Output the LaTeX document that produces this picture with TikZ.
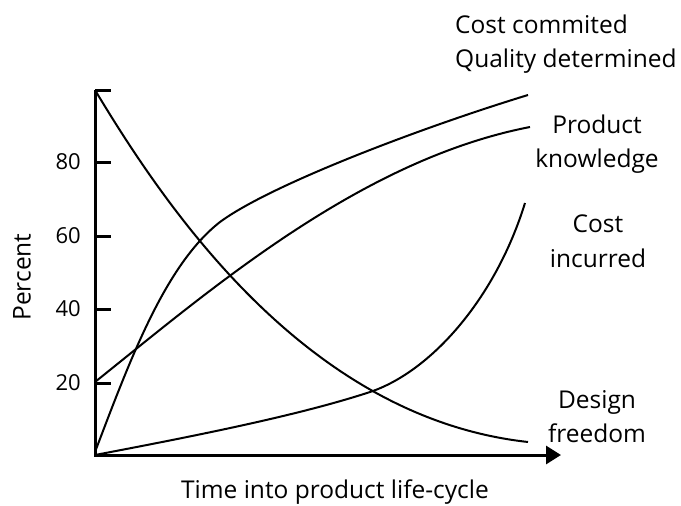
\documentclass[tikz,border=0pt]{standalone}
\usepackage{fontspec}
\setmainfont{Open Sans}
\usetikzlibrary{arrows.meta}
\begin{document}
\begin{tikzpicture}[x=1pt,y=-1pt,
  axis/.style={line width=3pt},
  curve/.style={line width=2pt},
  lbl/.style={font=\fontsize{24.5}{34}\selectfont, inner sep=0pt, anchor=base},
  ticklbl/.style={font=\fontsize{22}{24}\selectfont, inner sep=0pt, anchor=east}]
\useasboundingbox (0,0) rectangle (681,506);
\coordinate (O) at (95,455);
\coordinate (Ytop) at (95,90);
\coordinate (Xend) at (561,455);
% axes
\draw[axis, -{Triangle[length=15pt,width=18pt]}] (Ytop) -- (O) -- (Xend);
\foreach \y in {90,162,236,309,383}{
  \draw[axis] (95,\y) -- (111,\y);
}
\foreach \y/\v in {162/80,236/60,309/40,383/20}{
  \node[ticklbl] (t\v) at (81,\y) {\v};
}
\node[lbl, rotate=90, anchor=center] (pct) at (22,277) {Percent};
\node[lbl] (time) at (335,498) {Time into product life-cycle};
% curves
\draw[curve] (95,90) .. controls (170,215) and (310,418) .. (528,442);
\draw[curve] (95,452) .. controls (130,360) and (165,265) .. (220,222)
                      .. controls (270,185) and (420,128) .. (528,95);
\draw[curve] (95,382) .. controls (210,290) and (360,160) .. (530,127);
\draw[curve] (95,455) .. controls (200,435) and (300,415) .. (370,392)
                      .. controls (430,372) and (495,300) .. (525,203);
% labels
\node[lbl, anchor=base west] (cc1) at (455,33) {Cost commited};
\node[lbl, anchor=base west] (cc2) at (455,67) {Quality determined};
\node[lbl] (pk1) at (597,133) {Product};
\node[lbl] (pk2) at (597,167) {knowledge};
\node[lbl] (ci1) at (598,232) {Cost};
\node[lbl] (ci2) at (598,267) {incurred};
\node[lbl] (df1) at (597,408) {Design};
\node[lbl] (df2) at (597,442) {freedom};
\end{tikzpicture}
\end{document}
